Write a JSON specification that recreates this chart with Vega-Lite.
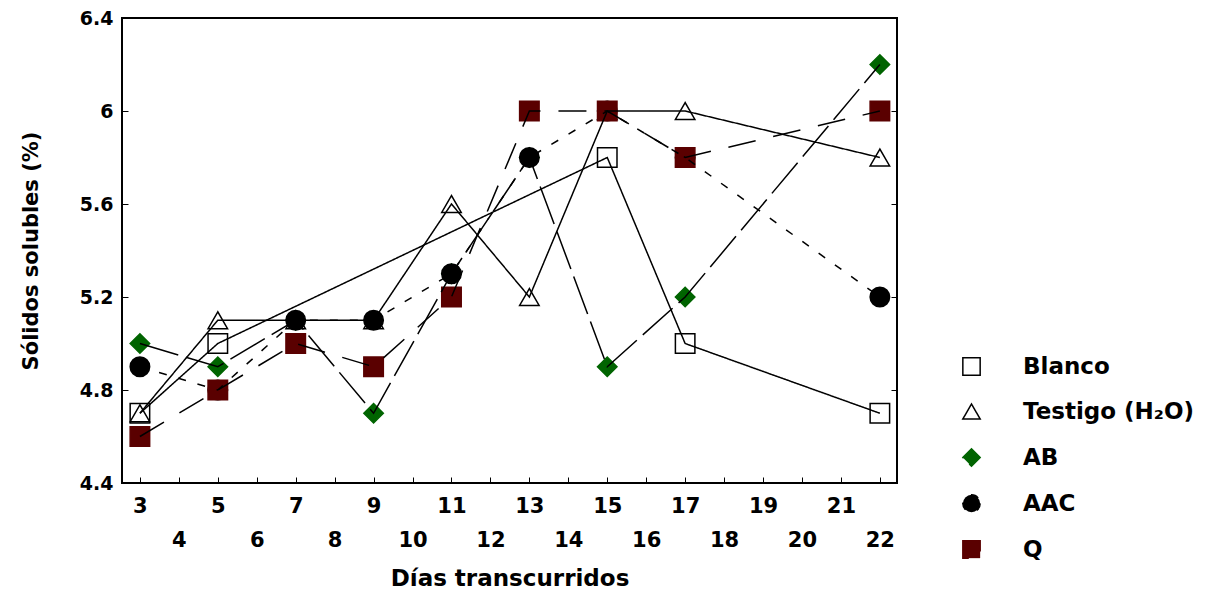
{
  "$schema": "https://vega.github.io/schema/vega-lite/v6.json",
  "width": 775,
  "height": 465,
  "autosize": "none",
  "padding": {"left": 122, "top": 18, "right": 318, "bottom": 111},
  "background": "white",
  "config": {
    "view": {"stroke": "black", "strokeWidth": 2},
    "axis": {"grid": false, "domain": false, "tickColor": "black", "labelColor": "black", "titleColor": "black", "labelFont": "DejaVu Sans", "labelFontWeight": "bold", "titleFont": "DejaVu Sans", "titleFontWeight": "bold"},
    "legend": {"labelFont": "DejaVu Sans", "labelFontWeight": "bold", "labelColor": "black", "labelLimit": 400}
  },
  "data": {
    "values": [
      {"d": 3, "v": 4.7, "s": "Blanco"},
      {"d": 5, "v": 5.0, "s": "Blanco"},
      {"d": 15, "v": 5.8, "s": "Blanco"},
      {"d": 17, "v": 5.0, "s": "Blanco"},
      {"d": 22, "v": 4.7, "s": "Blanco"},
      {"d": 3, "v": 4.7, "s": "Testigo (H₂O)"},
      {"d": 5, "v": 5.1, "s": "Testigo (H₂O)"},
      {"d": 7, "v": 5.1, "s": "Testigo (H₂O)"},
      {"d": 9, "v": 5.1, "s": "Testigo (H₂O)"},
      {"d": 11, "v": 5.6, "s": "Testigo (H₂O)"},
      {"d": 13, "v": 5.2, "s": "Testigo (H₂O)"},
      {"d": 15, "v": 6.0, "s": "Testigo (H₂O)"},
      {"d": 17, "v": 6.0, "s": "Testigo (H₂O)"},
      {"d": 22, "v": 5.8, "s": "Testigo (H₂O)"},
      {"d": 3, "v": 5.0, "s": "AB"},
      {"d": 5, "v": 4.9, "s": "AB"},
      {"d": 7, "v": 5.1, "s": "AB"},
      {"d": 9, "v": 4.7, "s": "AB"},
      {"d": 11, "v": 5.3, "s": "AB"},
      {"d": 13, "v": 5.8, "s": "AB"},
      {"d": 15, "v": 4.9, "s": "AB"},
      {"d": 17, "v": 5.2, "s": "AB"},
      {"d": 22, "v": 6.2, "s": "AB"},
      {"d": 3, "v": 4.9, "s": "AAC"},
      {"d": 5, "v": 4.8, "s": "AAC"},
      {"d": 7, "v": 5.1, "s": "AAC"},
      {"d": 9, "v": 5.1, "s": "AAC"},
      {"d": 11, "v": 5.3, "s": "AAC"},
      {"d": 13, "v": 5.8, "s": "AAC"},
      {"d": 15, "v": 6.0, "s": "AAC"},
      {"d": 17, "v": 5.8, "s": "AAC"},
      {"d": 22, "v": 5.2, "s": "AAC"},
      {"d": 3, "v": 4.6, "s": "Q"},
      {"d": 5, "v": 4.8, "s": "Q"},
      {"d": 7, "v": 5.0, "s": "Q"},
      {"d": 9, "v": 4.9, "s": "Q"},
      {"d": 11, "v": 5.2, "s": "Q"},
      {"d": 13, "v": 6.0, "s": "Q"},
      {"d": 15, "v": 6.0, "s": "Q"},
      {"d": 17, "v": 5.8, "s": "Q"},
      {"d": 22, "v": 6.0, "s": "Q"}
    ]
  },
  "layer": [
    {
      "mark": {"type": "point", "filled": true, "strokeWidth": 1.5, "size": 380, "opacity": 1},
      "encoding": {
        "x": {"field": "d", "type": "quantitative", "scale": {"domain": [2.54, 22.44], "nice": false, "zero": false},
          "axis": {"title": "Días transcurridos", "values": [3,4,5,6,7,8,9,10,11,12,13,14,15,16,17,18,19,20,21,22],
            "labelExpr": "datum.value % 2 == 0 ? ['', datum.label] : datum.label",
            "labelFontSize": 21, "labelLineHeight": 34, "labelPadding": 18, "tickSize": -6, "labelFlush": false, "labelOverlap": false,
            "titleFontSize": 23, "titlePadding": 17}},
        "y": {"field": "v", "type": "quantitative", "scale": {"domain": [4.4, 6.4], "nice": false, "zero": false},
          "axis": {"title": "Sólidos solubles (%)", "values": [4.4, 4.8, 5.2, 5.6, 6.0, 6.4], "format": ".2~f",
            "labelFontSize": 19, "labelPadding": 15, "tickSize": -6, "labelFlush": false,
            "titleFontSize": 21, "titlePadding": 38}},
        "shape": {"field": "s", "type": "nominal", "sort": null,
          "scale": {"domain": ["Blanco", "Testigo (H₂O)", "AB", "AAC", "Q"], "range": ["square", "triangle-up", "diamond", "circle", "square"]},
          "legend": {"title": null, "orient": "none", "legendX": 838, "legendY": 337, "padding": 0, "labelFontSize": 23, "symbolSize": 300, "symbolStrokeWidth": 1.5, "rowPadding": 21, "labelOffset": 40}},
        "fill": {"field": "s", "type": "nominal", "sort": null,
          "scale": {"domain": ["Blanco", "Testigo (H₂O)", "AB", "AAC", "Q"], "range": ["white", "white", "#006400", "#000000", "#5a0000"]},
          "legend": {"title": null, "orient": "none", "legendX": 838, "legendY": 337, "padding": 0, "labelFontSize": 23, "symbolSize": 300, "symbolStrokeWidth": 1.5, "rowPadding": 21, "labelOffset": 40}},
        "stroke": {"field": "s", "type": "nominal", "sort": null,
          "scale": {"domain": ["Blanco", "Testigo (H₂O)", "AB", "AAC", "Q"], "range": ["black", "black", "#006400", "#000000", "#5a0000"]},
          "legend": {"title": null, "orient": "none", "legendX": 838, "legendY": 337, "padding": 0, "labelFontSize": 23, "symbolSize": 300, "symbolStrokeWidth": 1.5, "rowPadding": 21, "labelOffset": 40}}
      }
    },
    {
      "mark": {"type": "line", "color": "black", "strokeWidth": 1.5},
      "encoding": {
        "x": {"field": "d", "type": "quantitative"},
        "y": {"field": "v", "type": "quantitative",
          "axis": {"orient": "right", "title": null, "labels": false, "values": [4.4, 4.8, 5.2, 5.6, 6.0, 6.4], "tickSize": -6}},
        "strokeDash": {"field": "s", "type": "nominal", "sort": null,
          "scale": {"domain": ["Blanco", "Testigo (H₂O)", "AB", "AAC", "Q"], "range": [[1, 0], [1, 0], [40, 8], [8, 12], [28, 18]]},
          "legend": null},
        "order": {"field": "d", "type": "quantitative"}
      }
    }
  ],
  "resolve": {"axis": {"y": "independent"}}
}
